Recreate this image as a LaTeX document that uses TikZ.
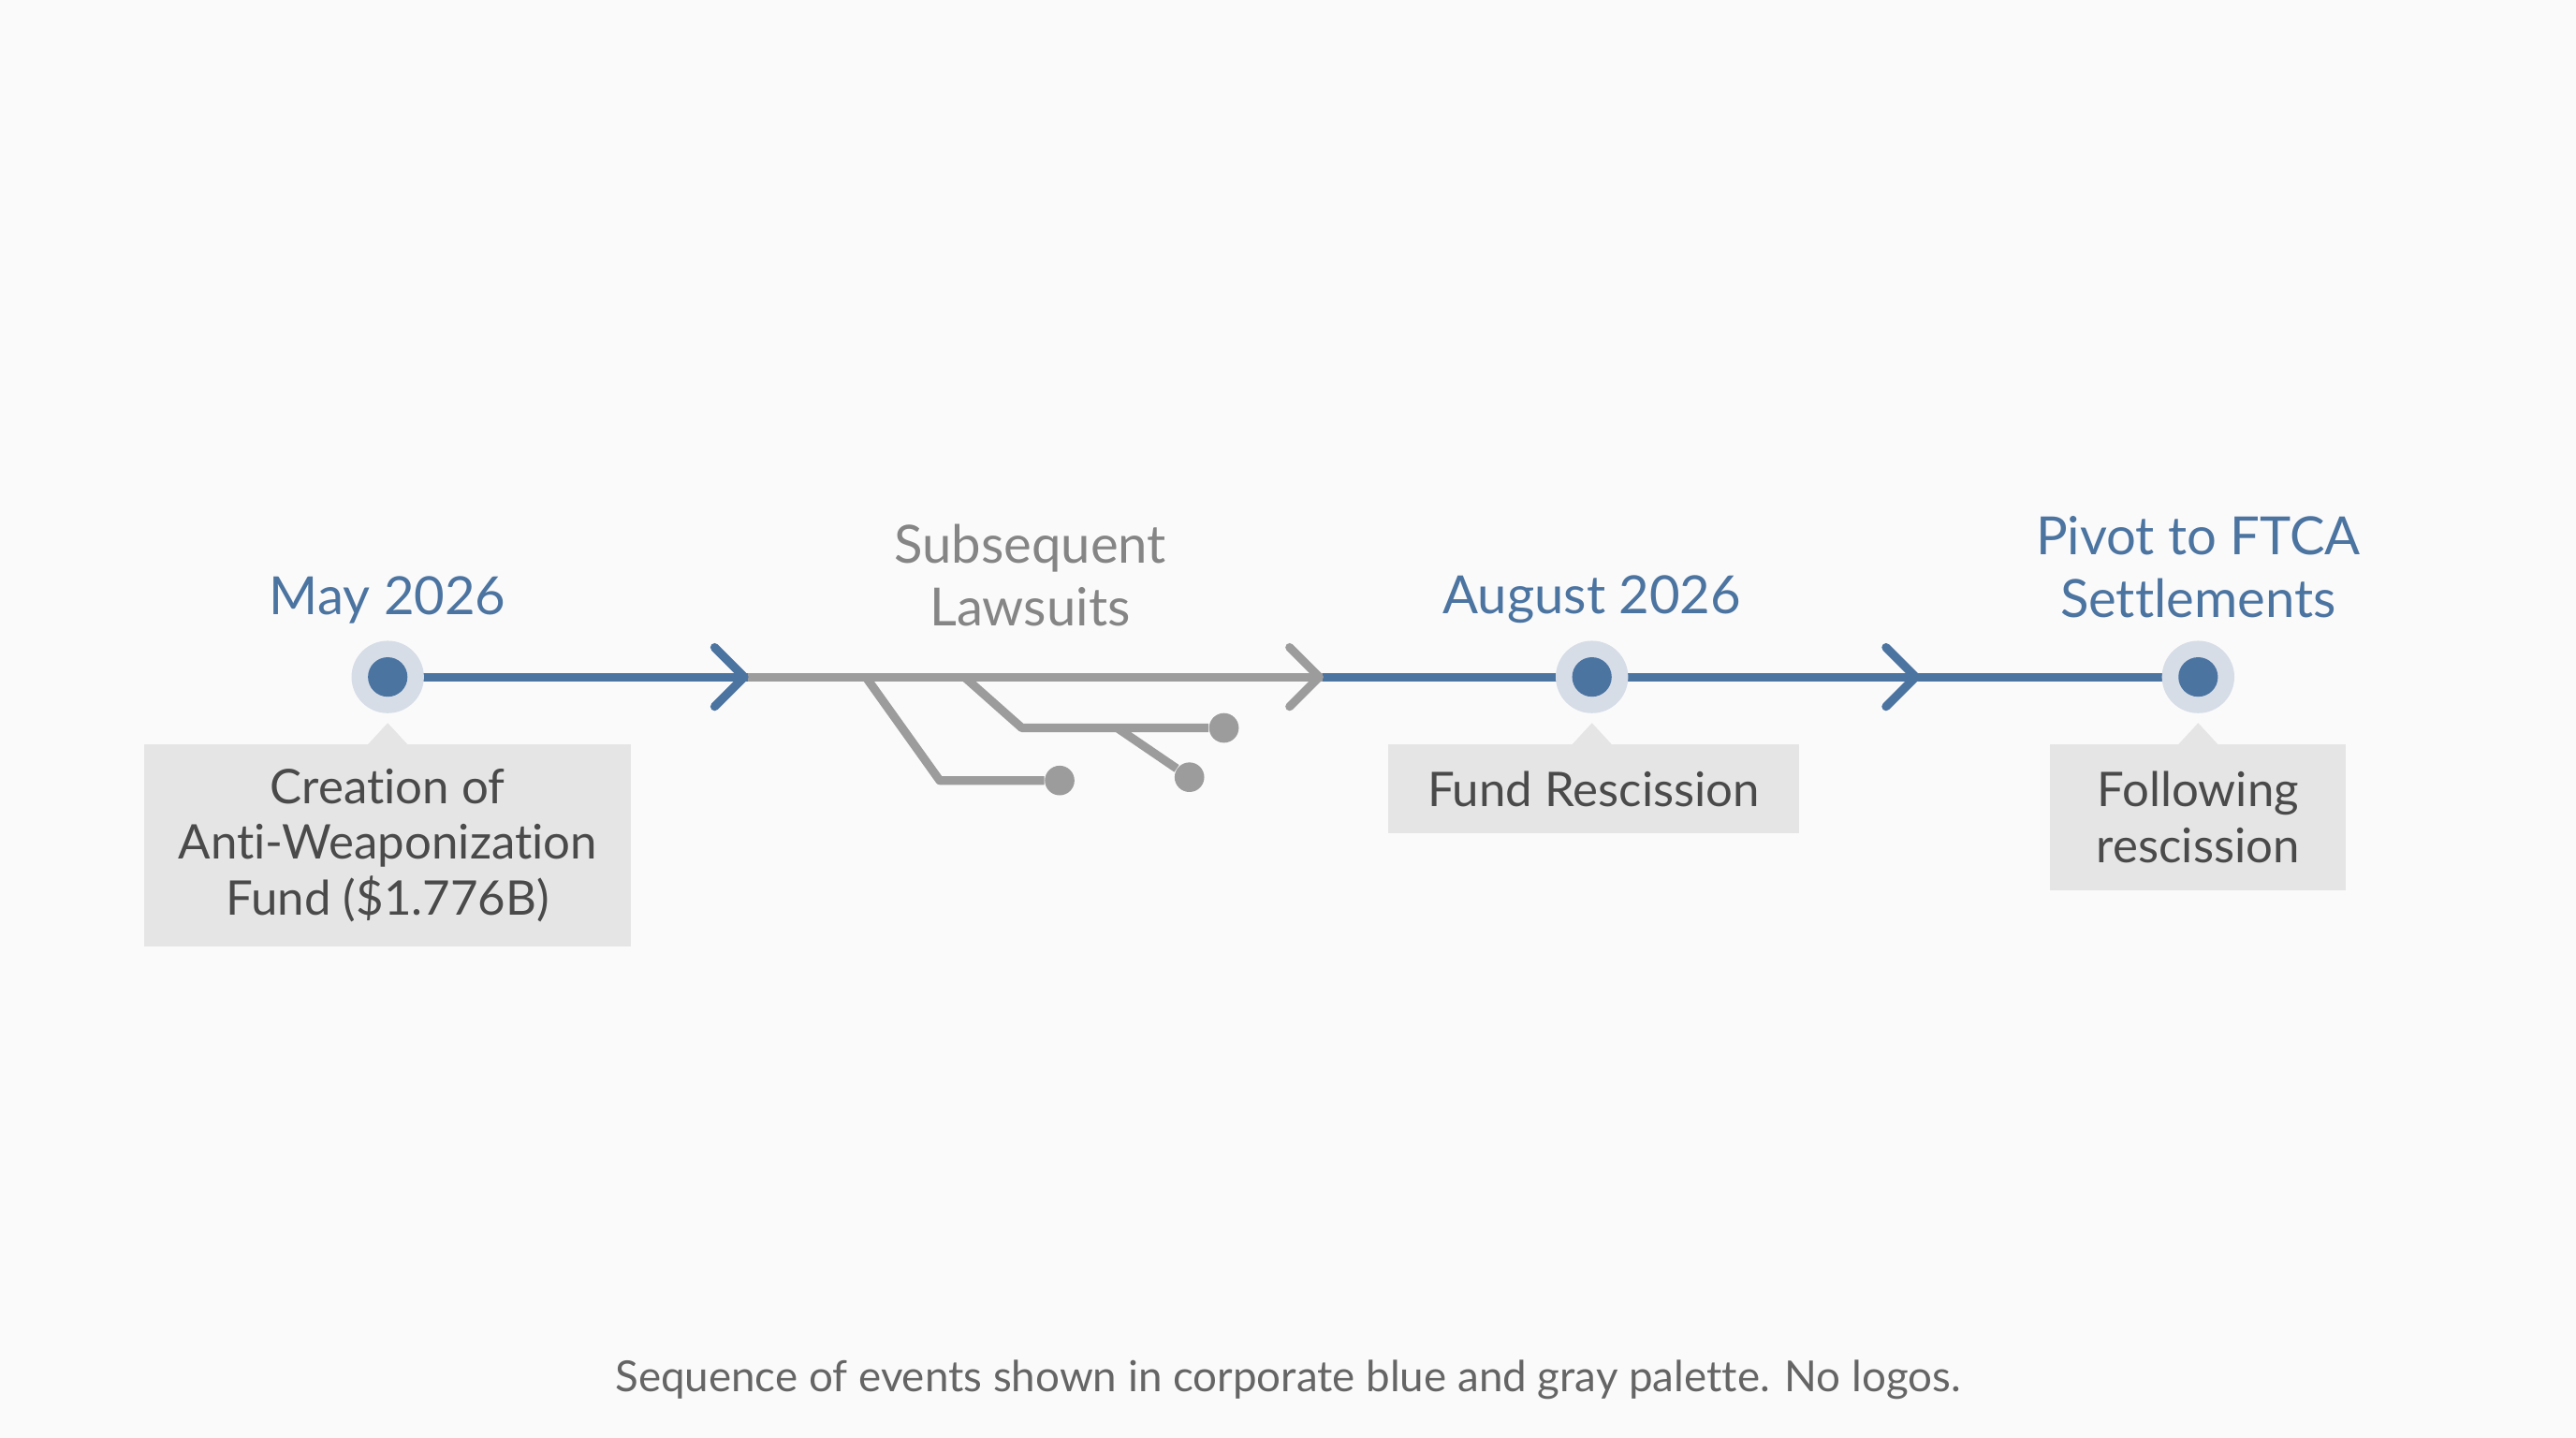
\documentclass[tikz,border=0pt]{standalone}
\usepackage{fontspec}
\setmainfont{Lato}[Ligatures={NoCommon}]
\begin{document}
\begin{tikzpicture}[x=0.01755cm,y=-0.01755cm,
  blue/.style={draw=bl,line width=2.6pt},
  gray/.style={draw=gr,line width=2.6pt},
  chev/.style={line width=2.6pt,line cap=round,line join=round},
  halo/.style={circle,fill=ha,minimum size=22pt,inner sep=0},
  dot/.style={circle,fill=bl,minimum size=12pt,inner sep=0},
  gdot/.style={circle,fill=gr,minimum size=9pt,inner sep=0},
  head/.style={font=\fontsize{16}{19}\selectfont,align=center},
  box/.style={text=tx,font=\fontsize{14.5}{17}\selectfont,align=center,inner sep=0}]
\definecolor{bl}{HTML}{4C74A1}
\definecolor{gr}{HTML}{9C9C9C}
\definecolor{tx}{HTML}{4A4A4A}
\definecolor{bx}{HTML}{E5E5E5}
\definecolor{ha}{HTML}{D6DDE7}
\definecolor{bgc}{HTML}{FAFAFA}
\fill[bgc] (0,0) rectangle (1568,875);
\useasboundingbox (0,0) rectangle (1568,875);
% boxes with pointers
\fill[bx] (88,453) rectangle (384,576);
\fill[bx] (224,453) -- (236,440) -- (248,453) -- cycle;
\node[box] (b1) at (236,514.5) {Creation of\\Anti-Weaponization\\Fund (\$1.776B)};
\fill[bx] (845,453) rectangle (1095,507);
\fill[bx] (957,453) -- (969,440) -- (981,453) -- cycle;
\node[box] (b2) at (970,480) {Fund Rescission};
\fill[bx] (1248,453) rectangle (1428,542);
\fill[bx] (1326,453) -- (1338,440) -- (1350,453) -- cycle;
\node[box] (b3) at (1338,497.5) {Following\\rescission};
% coordinates
\coordinate (s1) at (236,412);
\coordinate (c1) at (455,412);
\coordinate (c2) at (805,412);
\coordinate (s2) at (969,412);
\coordinate (s3) at (1338,412);
% line
\draw[gray] (c1) -- (c2);
\draw[blue] (s1) -- (c1);
\draw[blue] (c2) -- (s3);
\draw[bl,chev] (435,394) -- (453,412) -- (435,430);
\draw[gr,chev] (785,394) -- (803,412) -- (785,430);
\draw[bl,chev] (1148,394) -- (1166,412) -- (1148,430);
% branches
\coordinate (bA) at (527,412); \coordinate (bB) at (587,412);
\node[gdot] (d1) at (645,475) {};
\node[gdot] (d2) at (745,443) {};
\node[gdot] (d3) at (724,473) {};
\draw[gray,line join=round] (bA) -- (572,475) -- (d1);
\draw[gray,line join=round] (bB) -- (622,443) -- (d2);
\draw[gray] (680,443) -- (d3);
% dots
\foreach \p/\n in {s1/h1,s2/h2,s3/h3}{\node[halo] at (\p) {}; \node[dot] at (\p) {};}
% headings
\node[head,text=bl] (t1) at (236,365) {May 2026};
\node[head,text=gr!85!black] (t2) at (627,350) {Subsequent\\Lawsuits};
\node[head,text=bl] (t3) at (969,365) {August 2026};
\node[head,text=bl] (t4) at (1338,345) {Pivot to FTCA\\Settlements};
\node[text=tx!85,font=\fontsize{13}{15}\selectfont] (cap) at (784,840) {Sequence of events shown in corporate blue and gray palette. No logos.};
\end{tikzpicture}
\end{document}
